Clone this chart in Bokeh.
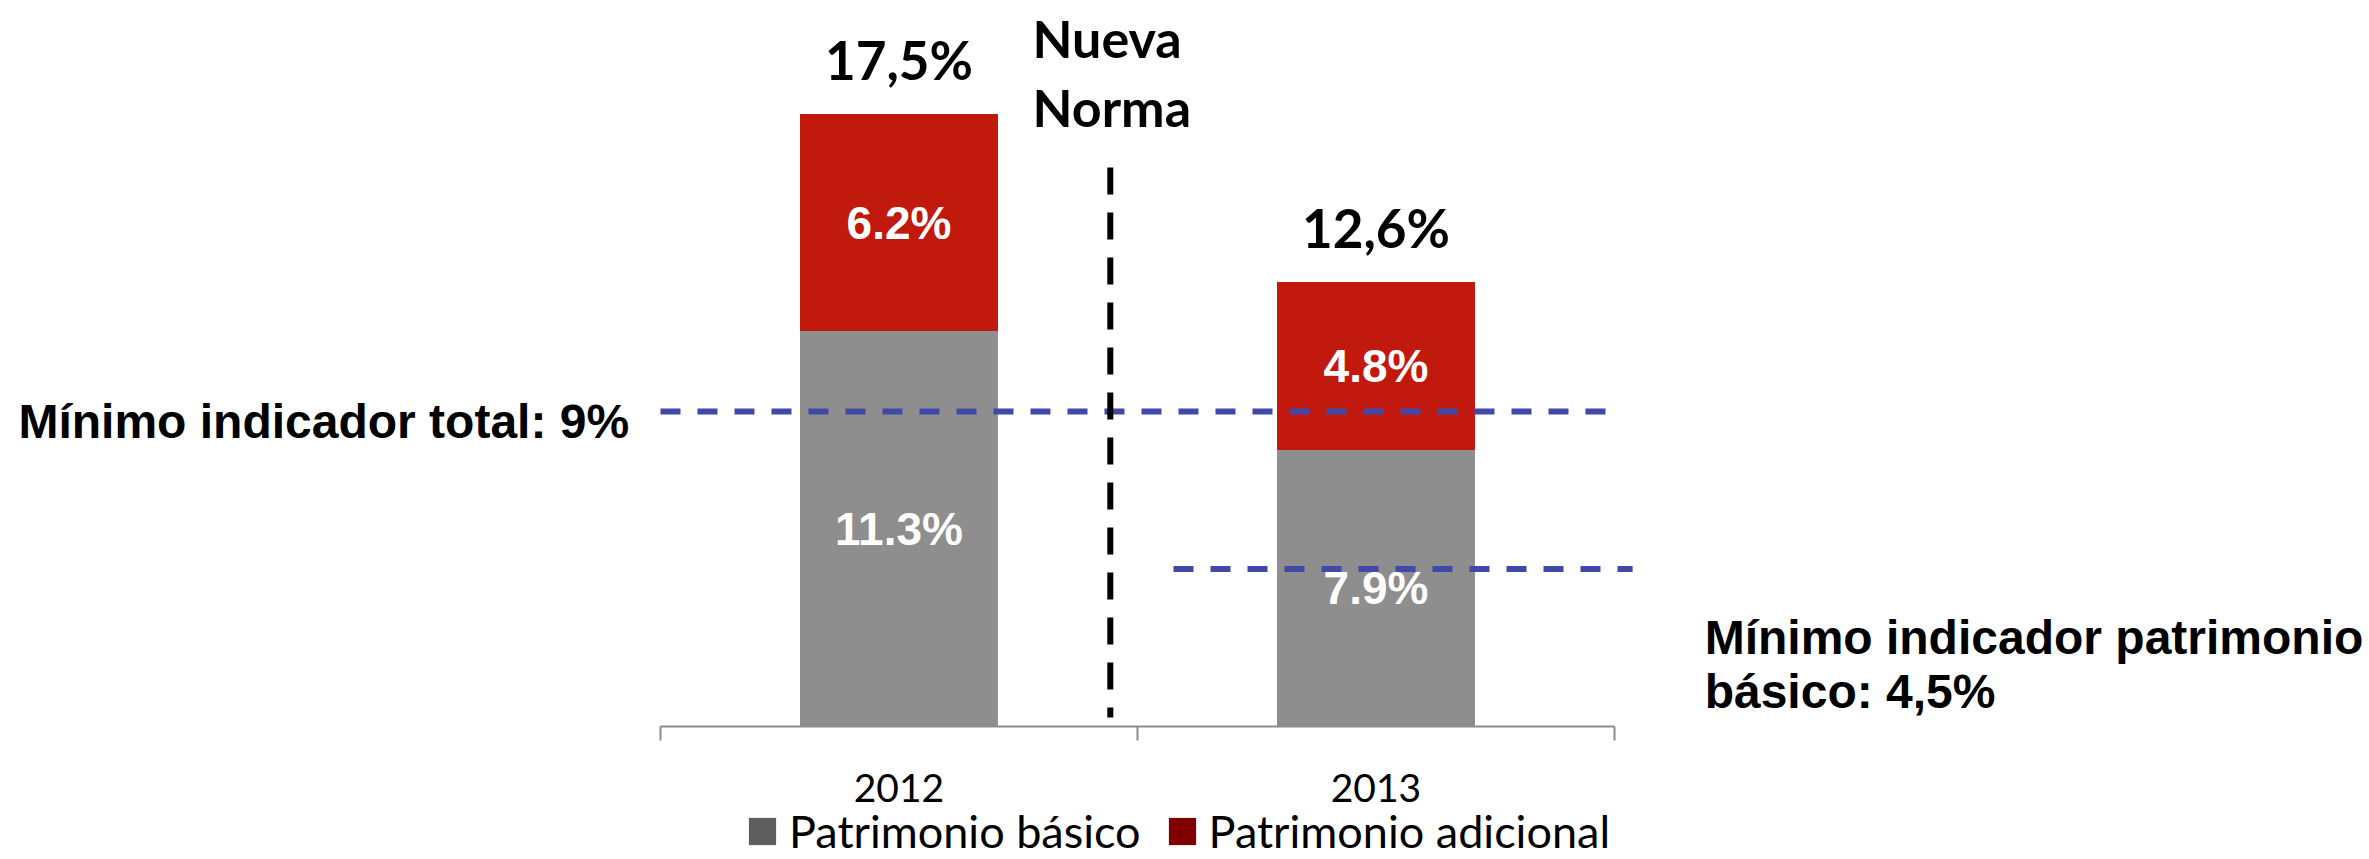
from bokeh.plotting import figure
from bokeh.models import Range1d, LinearAxis, FixedTicker, Legend, LegendItem, ColumnDataSource
from bokeh.core.properties import value
from bokeh.embed import file_html
from bokeh.resources import INLINE

# ---- data ----
years = ["2012", "2013"]
basico = [11.3, 7.9]
adicional = [6.2, 4.8]
total_labels = ["17,5%", "12,6%"]
basico_labels = ["11.3%", "7.9%"]
adicional_labels = ["6.2%", "4.8%"]
min_total = 9.0
min_basico = 4.5
min_total_label = "Mínimo indicador total: 9%"
min_basico_label = ["Mínimo indicador patrimonio", "básico: 4,5%"]
norma_label = ["Nueva", "Norma"]
series_names = ["Patrimonio básico", "Patrimonio adicional"]

# ---- layout ----
W, H = 2369, 859
p = figure(width=W, height=H,
           x_range=Range1d(-1.3836, 3.5828), y_range=Range1d(-3.8, 20.743),
           x_axis_type=None, y_axis_type=None,
           output_backend="svg", toolbar_location=None,
           min_border=0, outline_line_color=None)
p.background_fill_color = "white"

xc = [i + 0.5 for i in range(len(years))]
tops = [b + a for b, a in zip(basico, adicional)]
src = ColumnDataSource(dict(x=xc, basico=basico, top=tops,
                            mid_b=[b / 2 for b in basico],
                            mid_a=[b + a / 2 for b, a in zip(basico, adicional)],
                            tl=total_labels, bl=basico_labels, al=adicional_labels))

BAR_W = 0.415
p.vbar(x="x", width=BAR_W, bottom=0, top="basico", source=src,
       fill_color="#8E8E8E", line_color=None)
p.vbar(x="x", width=BAR_W, bottom="basico", top="top", source=src,
       fill_color="#C1190D", line_color=None)

# reference lines
BLUE = "#4048A8"
p.segment(x0=[0.0], y0=[min_total], x1=[2.006], y1=[min_total],
          line_color=BLUE, line_width=6, line_dash="20 17")
p.segment(x0=[1.0755], y0=[min_basico], x1=[2.038], y1=[min_basico],
          line_color=BLUE, line_width=6, line_dash="20 17")
# Nueva norma divider
p.segment(x0=[0.943], y0=[15.97], x1=[0.943], y1=[0.26],
          line_color="black", line_width=6, line_dash="27 18")

# axis (category boundaries as ticks)
ax = LinearAxis(fixed_location=0, bounds=(0, 2), ticker=FixedTicker(ticks=[0, 1, 2]),
                axis_line_color="#8C8C8C", axis_line_width=2,
                major_tick_line_color="#8C8C8C", major_tick_line_width=2,
                major_tick_in=0, major_tick_out=14,
                minor_tick_line_color=None,
                major_label_text_alpha=0, major_label_text_font_size="1px")
p.add_layout(ax, "below")
lab_ax = LinearAxis(fixed_location=0, ticker=FixedTicker(ticks=xc),
                    major_label_overrides={x: y for x, y in zip(xc, years)},
                    axis_line_color=None, major_tick_line_color=None,
                    minor_tick_line_color=None, major_tick_in=0, major_tick_out=0,
                    major_label_standoff=47,
                    major_label_text_font="Lato",
                    major_label_text_font_size="39px",
                    major_label_text_color="black")
p.add_layout(lab_ax, "below")

# value labels
p.text(x="x", y="top", text="tl", source=src, text_align="center",
       text_baseline="alphabetic", y_offset=-55,
       text_font=value("Lato"), text_font_style="bold",
       text_font_size="53px", text_color="black")
p.text(x="x", y="mid_b", text="bl", source=src, text_align="center",
       text_baseline="middle", text_font=value("Liberation Sans"),
       text_font_style="bold", text_font_size="46px", text_color="white")
p.text(x="x", y="mid_a", text="al", source=src, text_align="center",
       text_baseline="middle", text_font=value("Liberation Sans"),
       text_font_style="bold", text_font_size="46px", text_color="white")

# annotations
p.text(x=[0.78, 0.78], y=[19.68, 17.71], text=norma_label, text_align="left",
       text_baseline="alphabetic", text_font=value("Lato"), text_font_style="bold",
       text_font_size="52px", text_color="black")
p.text(x=[-1.346], y=[min_total], text=[min_total_label], text_align="left",
       text_baseline="alphabetic", y_offset=10,
       text_font=value("Liberation Sans"), text_font_style="bold",
       text_font_size="48px", text_color="black")
p.text(x=[2.189, 2.189], y=[min_basico, min_basico], text=min_basico_label,
       text_align="left", text_baseline="alphabetic", y_offset=[68, 122],
       text_font=value("Liberation Sans"), text_font_style="bold",
       text_font_size="48px", text_color="black")

# legend (swatch colours as in the original legend; hidden proxy renderers)
lg1 = p.vbar(x="x", width=BAR_W, bottom=0, top="basico", source=src,
             fill_color="#5E5E5E", line_color=None, visible=False)
lg2 = p.vbar(x="x", width=BAR_W, bottom="basico", top="top", source=src,
             fill_color="#800000", line_color=None, visible=False)
legend = Legend(items=[LegendItem(label=series_names[0], renderers=[lg1]),
                       LegendItem(label=series_names[1], renderers=[lg2])],
                orientation="horizontal", location=(745, 1),
                glyph_width=34, glyph_height=34, label_standoff=10, spacing=24,
                padding=0, margin=0, border_line_color=None,
                background_fill_alpha=0,
                label_text_font="Lato", label_text_font_size="45px",
                label_text_color="black")
p.add_layout(legend)

open("out.html", "w").write(file_html(p, INLINE))
